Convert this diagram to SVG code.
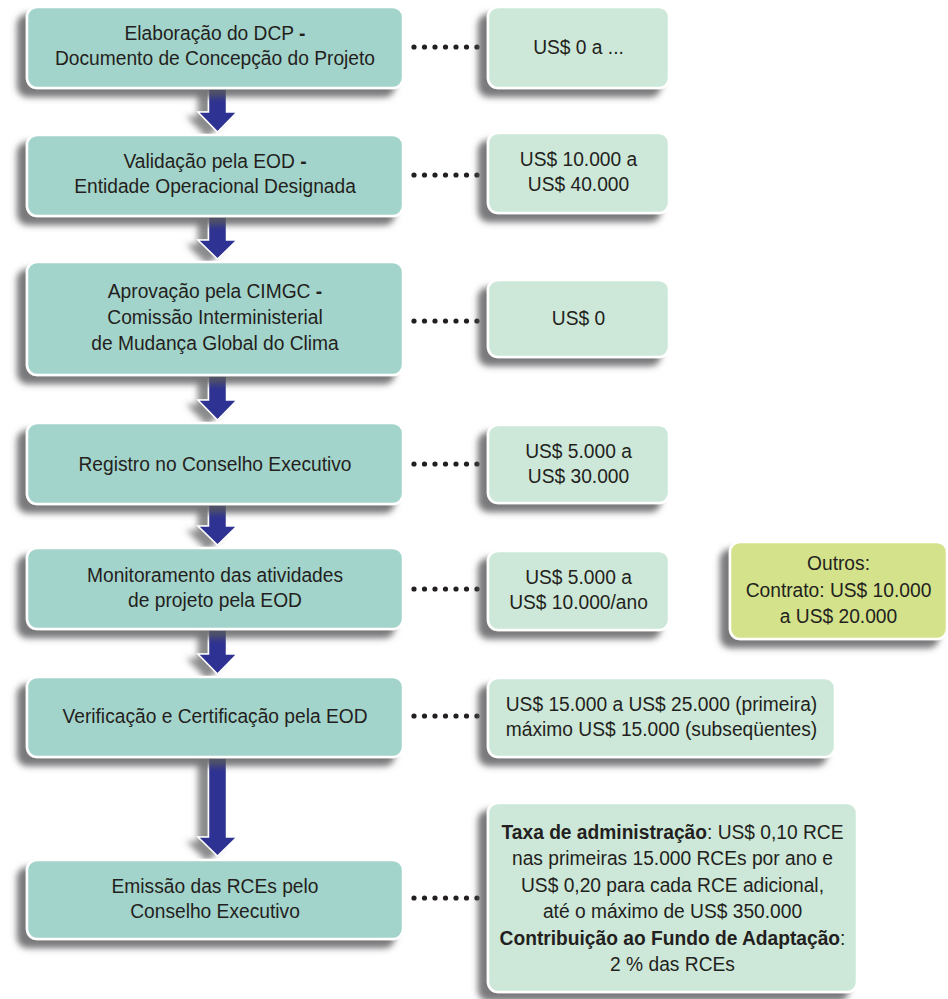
<svg xmlns="http://www.w3.org/2000/svg" width="948" height="999" viewBox="0 0 948 999">
<defs>
<filter id="sh" x="-15%" y="-20%" width="130%" height="150%">
<feGaussianBlur in="SourceAlpha" stdDeviation="3" result="b"/>
<feOffset in="b" dx="-9" dy="8" result="o"/>
<feFlood flood-color="#58595b" flood-opacity="0.8"/>
<feComposite in2="o" operator="in" result="s"/>
<feMerge><feMergeNode in="s"/><feMergeNode in="SourceGraphic"/></feMerge>
</filter>
<filter id="ash" x="-60%" y="-20%" width="160%" height="150%">
<feGaussianBlur in="SourceAlpha" stdDeviation="3" result="b"/>
<feOffset in="b" dx="-10" dy="5" result="o"/>
<feFlood flood-color="#58595b" flood-opacity="0.7"/>
<feComposite in2="o" operator="in" result="s"/>
<feMerge><feMergeNode in="s"/><feMergeNode in="SourceGraphic"/></feMerge>
</filter>
</defs>
<style>
.step{fill:#a3d4cb;stroke:#fff;stroke-width:2.5;filter:url(#sh)}
.cost{fill:#cde8d8;stroke:#fff;stroke-width:2.5;filter:url(#sh)}
.other{fill:#d4e28b;stroke:#fff;stroke-width:2.5;filter:url(#sh)}
text{font-family:"Liberation Sans",Arial,sans-serif;font-size:20px;fill:#231f20;text-anchor:middle}
.b{font-weight:bold}
.arrow{fill:#2e3192;stroke:#fff;stroke-width:1.5;filter:url(#ash)}
.dot{fill:#231f20}
</style>
<rect width="948" height="999" fill="#fff"/>

<g id="connectors">
<path class="arrow" d="M208.5,89H226.5V112H237L217.5,132L198,112H208.5Z"/>
<path class="arrow" d="M208.5,217H226.5V240H237L217.5,259L198,240H208.5Z"/>
<path class="arrow" d="M208.5,376H226.5V400H237L217.5,420L198,400H208.5Z"/>
<path class="arrow" d="M208.5,505H226.5V526H237L217.5,545L198,526H208.5Z"/>
<path class="arrow" d="M208.5,630H226.5V654H237L217.5,674L198,654H208.5Z"/>
<path class="arrow" d="M208.5,758H226.5V837H237L217.5,856L198,837H208.5Z"/>
<g class="dot">
<g id="d1" transform="translate(0,47)"><circle cx="414" cy="0" r="2.6"/><circle cx="424.5" cy="0" r="2.6"/><circle cx="435" cy="0" r="2.6"/><circle cx="445.5" cy="0" r="2.6"/><circle cx="456" cy="0" r="2.6"/><circle cx="466.5" cy="0" r="2.6"/><circle cx="477" cy="0" r="2.6"/></g>
<g transform="translate(0,175)"><circle cx="414" cy="0" r="2.6"/><circle cx="424.5" cy="0" r="2.6"/><circle cx="435" cy="0" r="2.6"/><circle cx="445.5" cy="0" r="2.6"/><circle cx="456" cy="0" r="2.6"/><circle cx="466.5" cy="0" r="2.6"/><circle cx="477" cy="0" r="2.6"/></g>
<g transform="translate(0,321)"><circle cx="414" cy="0" r="2.6"/><circle cx="424.5" cy="0" r="2.6"/><circle cx="435" cy="0" r="2.6"/><circle cx="445.5" cy="0" r="2.6"/><circle cx="456" cy="0" r="2.6"/><circle cx="466.5" cy="0" r="2.6"/><circle cx="477" cy="0" r="2.6"/></g>
<g transform="translate(0,464)"><circle cx="414" cy="0" r="2.6"/><circle cx="424.5" cy="0" r="2.6"/><circle cx="435" cy="0" r="2.6"/><circle cx="445.5" cy="0" r="2.6"/><circle cx="456" cy="0" r="2.6"/><circle cx="466.5" cy="0" r="2.6"/><circle cx="477" cy="0" r="2.6"/></g>
<g transform="translate(0,589)"><circle cx="414" cy="0" r="2.6"/><circle cx="424.5" cy="0" r="2.6"/><circle cx="435" cy="0" r="2.6"/><circle cx="445.5" cy="0" r="2.6"/><circle cx="456" cy="0" r="2.6"/><circle cx="466.5" cy="0" r="2.6"/><circle cx="477" cy="0" r="2.6"/></g>
<g transform="translate(0,716)"><circle cx="414" cy="0" r="2.6"/><circle cx="424.5" cy="0" r="2.6"/><circle cx="435" cy="0" r="2.6"/><circle cx="445.5" cy="0" r="2.6"/><circle cx="456" cy="0" r="2.6"/><circle cx="466.5" cy="0" r="2.6"/><circle cx="477" cy="0" r="2.6"/></g>
<g transform="translate(0,898)"><circle cx="414" cy="0" r="2.6"/><circle cx="424.5" cy="0" r="2.6"/><circle cx="435" cy="0" r="2.6"/><circle cx="445.5" cy="0" r="2.6"/><circle cx="456" cy="0" r="2.6"/><circle cx="466.5" cy="0" r="2.6"/><circle cx="477" cy="0" r="2.6"/></g>
</g>
</g>

<g id="step1">
<rect class="step" x="27" y="7" width="376" height="81" rx="10"/>
<g transform="translate(215,0) scale(0.96,1)"><text x="0" y="40">Elaboração do DCP <tspan class="b">-</tspan></text><text x="0" y="65">Documento de Concepção do Projeto</text></g>
</g>
<g id="step2">
<rect class="step" x="27" y="135" width="376" height="81" rx="10"/>
<g transform="translate(215,0) scale(0.96,1)"><text x="0" y="168">Validação pela EOD <tspan class="b">-</tspan></text><text x="0" y="193">Entidade Operacional Designada</text></g>
</g>
<g id="step3">
<rect class="step" x="27" y="262" width="376" height="113" rx="10"/>
<g transform="translate(215,0) scale(0.96,1)"><text x="0" y="298">Aprovação pela CIMGC <tspan class="b">-</tspan></text><text x="0" y="324">Comissão Interministerial</text><text x="0" y="350">de Mudança Global do Clima</text></g>
</g>
<g id="step4">
<rect class="step" x="27" y="423" width="376" height="81" rx="10"/>
<g transform="translate(215,0) scale(0.96,1)"><text x="0" y="471">Registro no Conselho Executivo</text></g>
</g>
<g id="step5">
<rect class="step" x="27" y="548" width="376" height="81" rx="10"/>
<g transform="translate(215,0) scale(0.96,1)"><text x="0" y="582">Monitoramento das atividades</text><text x="0" y="607">de projeto pela EOD</text></g>
</g>
<g id="step6">
<rect class="step" x="27" y="677" width="376" height="80" rx="10"/>
<g transform="translate(215,0) scale(0.96,1)"><text x="0" y="723">Verificação e Certificação pela EOD</text></g>
</g>
<g id="step7">
<rect class="step" x="27" y="860" width="376" height="79" rx="10"/>
<g transform="translate(215,0) scale(0.96,1)"><text x="0" y="893">Emissão das RCEs pelo</text><text x="0" y="918">Conselho Executivo</text></g>
</g>

<g id="cost1">
<rect class="cost" x="488" y="7" width="181" height="81" rx="10"/>
<g transform="translate(578.5,0) scale(0.96,1)"><text x="0" y="54">US$ 0 a ...</text></g>
</g>
<g id="cost2">
<rect class="cost" x="488" y="133" width="181" height="80" rx="10"/>
<g transform="translate(578.5,0) scale(0.96,1)"><text x="0" y="166">US$ 10.000 a</text><text x="0" y="191">US$ 40.000</text></g>
</g>
<g id="cost3">
<rect class="cost" x="488" y="280" width="181" height="77" rx="10"/>
<g transform="translate(578.5,0) scale(0.96,1)"><text x="0" y="325">US$ 0</text></g>
</g>
<g id="cost4">
<rect class="cost" x="488" y="425" width="181" height="78" rx="10"/>
<g transform="translate(578.5,0) scale(0.96,1)"><text x="0" y="458">US$ 5.000 a</text><text x="0" y="483">US$ 30.000</text></g>
</g>
<g id="cost5">
<rect class="cost" x="488" y="551" width="181" height="79" rx="10"/>
<g transform="translate(578.5,0) scale(0.96,1)"><text x="0" y="584">US$ 5.000 a</text><text x="0" y="609">US$ 10.000/ano</text></g>
</g>
<g id="outros">
<rect class="other" x="730" y="542" width="217" height="97" rx="10"/>
<g transform="translate(838.5,0) scale(0.96,1)"><text x="0" y="570">Outros:</text><text x="0" y="597">Contrato: US$ 10.000</text><text x="0" y="623">a US$ 20.000</text></g>
</g>
<g id="cost6">
<rect class="cost" x="488" y="678" width="347" height="79" rx="10"/>
<g transform="translate(661.5,0) scale(0.96,1)"><text x="0" y="711">US$ 15.000 a US$ 25.000 (primeira)</text><text x="0" y="736">máximo US$ 15.000 (subseqüentes)</text></g>
</g>
<g id="cost7">
<rect class="cost" x="488" y="803" width="369" height="189" rx="10"/>
<g transform="translate(672.5,0) scale(0.96,1)">
<text x="0" y="839"><tspan class="b">Taxa de administração</tspan>: US$ 0,10 RCE</text>
<text x="0" y="865">nas primeiras 15.000 RCEs por ano e</text>
<text x="0" y="892">US$ 0,20 para cada RCE adicional,</text>
<text x="0" y="918">até o máximo de US$ 350.000</text>
<text x="0" y="945"><tspan class="b">Contribuição ao Fundo de Adaptação</tspan>:</text>
<text x="0" y="971">2 % das RCEs</text>
</g>
</g>
</svg>
